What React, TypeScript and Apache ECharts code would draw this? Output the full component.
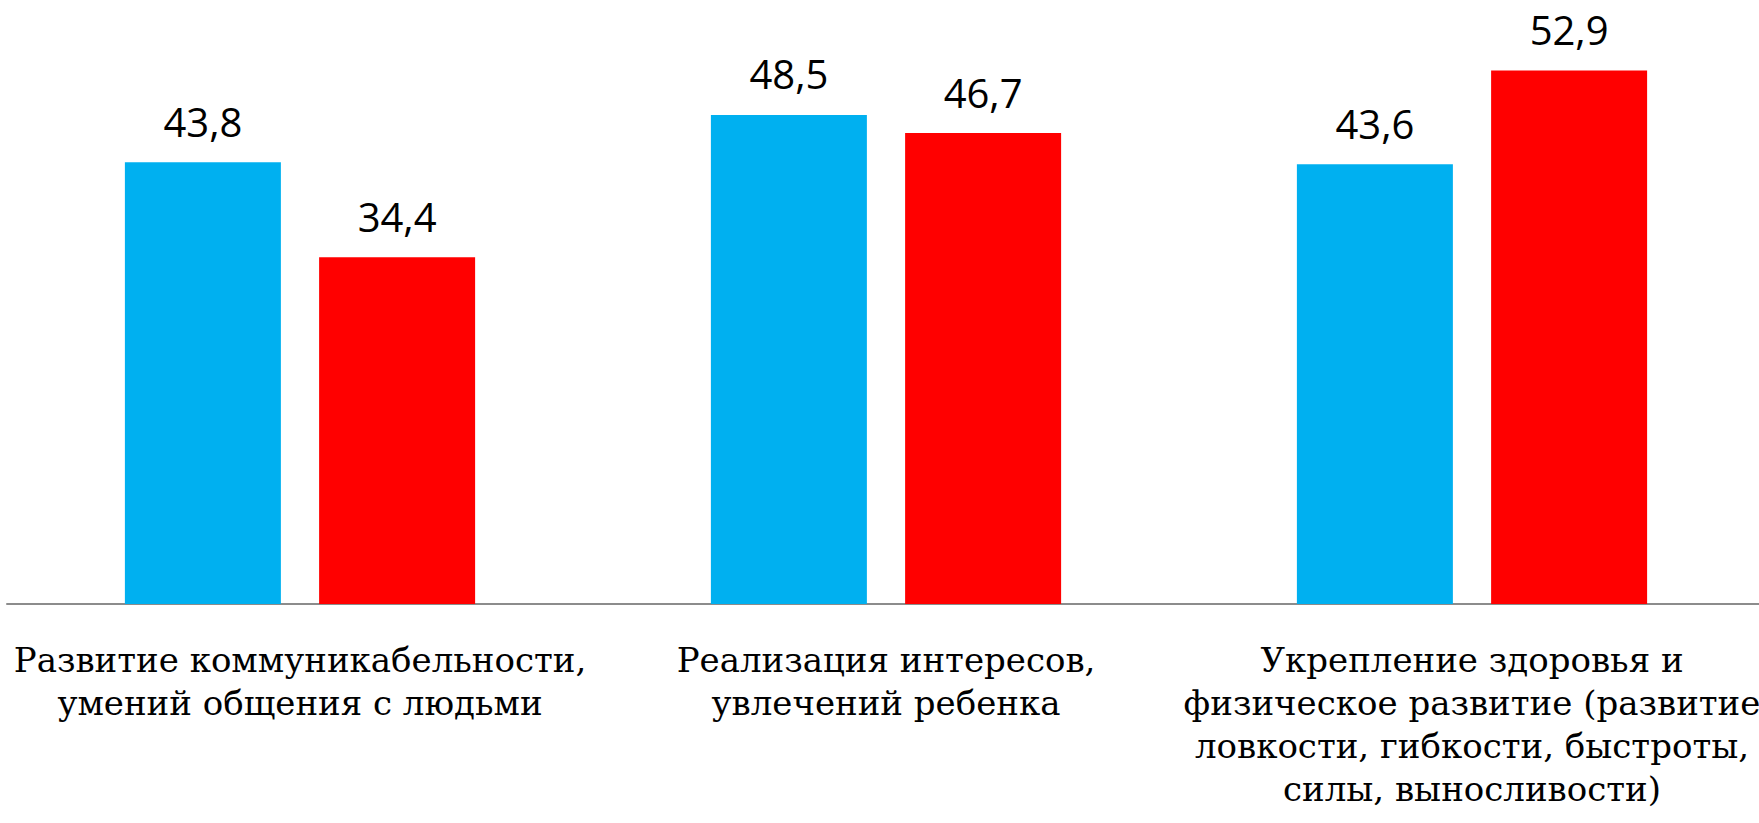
import React, { useEffect, useRef } from "react";
import * as echarts from "echarts";

const categories = [
  "Развитие коммуникабельности,\nумений общения с людьми",
  "Реализация интересов,\nувлечений ребенка",
  "Укрепление здоровья и\nфизическое развитие (развитие\nловкости, гибкости, быстроты,\nсилы, выносливости)",
];
const seriesBlue = [43.8, 48.5, 43.6];
const seriesRed = [34.4, 46.7, 52.9];

const fmt = (p: any) => String(p.value).replace(".", ",");

export default function App() {
  const ref = useRef<HTMLDivElement>(null);
  useEffect(() => {
    if (!ref.current) return;
    const chart = echarts.init(ref.current, null, { renderer: "svg" });
    const label = {
      show: true,
      position: "top",
      distance: 21,
      formatter: fmt,
      color: "#000000",
      fontFamily: "Open Sans",
      fontSize: 40,
    };
    chart.setOption({
      animation: false,
      backgroundColor: "#ffffff",
      grid: { left: 7, width: 1758, top: -1, height: 605, containLabel: false, outerBoundsMode: "none" },
      xAxis: {
        type: "category",
        data: categories,
        axisLine: { show: true, lineStyle: { color: "#8c8c8c", width: 2 } },
        axisTick: { show: false },
        axisLabel: {
          interval: 0,
          margin: 34,
          color: "#000000",
          fontFamily: "DejaVu Serif",
          fontSize: 34,
          lineHeight: 43,
          align: "center",
        },
      },
      yAxis: {
        type: "value",
        min: 0,
        max: 60,
        show: false,
        splitLine: { show: false },
      },
      series: [
        {
          name: "Ряд 1",
          type: "bar",
          data: seriesBlue,
          barWidth: 156,
          barGap: "24.5%",
          itemStyle: { color: "#00B0F0" },
          label,
        },
        {
          name: "Ряд 2",
          type: "bar",
          data: seriesRed,
          barWidth: 156,
          barGap: "24.5%",
          itemStyle: { color: "#FF0000" },
          label,
        },
      ],
    });
    return () => chart.dispose();
  }, []);
  return (
    <div
      ref={ref}
      style={{ position: "absolute", left: 0, top: 0, width: 1759, height: 823 }}
    />
  );
}
